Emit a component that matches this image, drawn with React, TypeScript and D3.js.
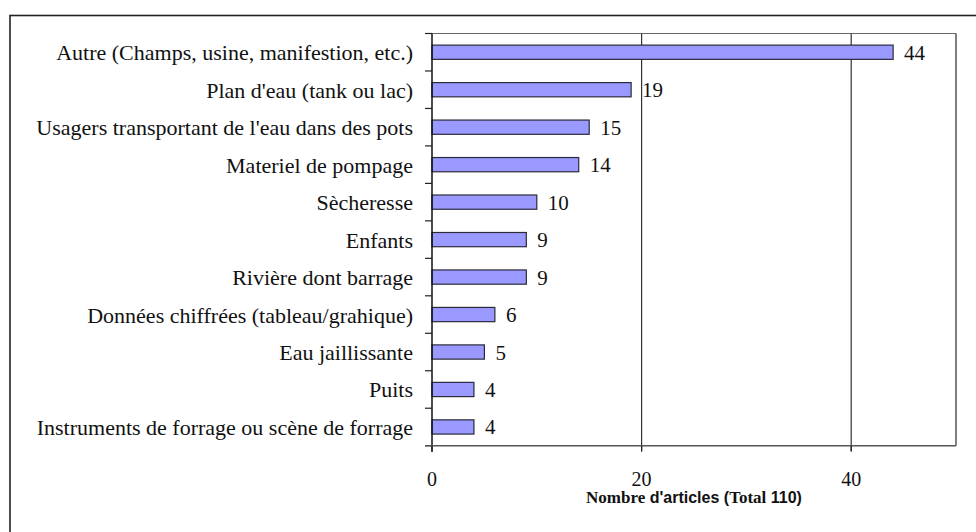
import React from "react";
import * as d3 from "d3";

const categories: string[] = [
  "Autre (Champs, usine, manifestion, etc.)",
  "Plan d'eau (tank ou lac)",
  "Usagers transportant de l'eau dans des pots",
  "Materiel de pompage",
  "Sècheresse",
  "Enfants",
  "Rivière dont barrage",
  "Données chiffrées (tableau/grahique)",
  "Eau jaillissante",
  "Puits",
  "Instruments de forrage ou scène de forrage",
];
const values: number[] = [44, 19, 15, 14, 10, 9, 9, 6, 5, 4, 4];
const xTicks: number[] = [0, 20, 40];
const xDomain: [number, number] = [0, 50];

const W = 976;
const H = 532;
const plot = { left: 432, right: 956, top: 33.5, bottom: 445.7 };
const serif = "Liberation Serif, Times New Roman, serif";
const sans = "Liberation Sans, Arial, sans-serif";

export default function App() {
  const x = d3.scaleLinear().domain(xDomain).range([plot.left, plot.right]);
  const y = d3
    .scaleBand<string>()
    .domain(categories)
    .range([plot.top, plot.bottom])
    .paddingInner(0.62)
    .paddingOuter(0.31);
  const step = y.step();
  const boundaries = d3.range(categories.length + 1).map((i) => plot.top + i * step);

  return (
    <svg
      width={W}
      height={H}
      style={{ position: "absolute", left: 0, top: 0, background: "#fff" }}
    >
      <rect x={0} y={0} width={W} height={H} fill="#fff" />
      <rect x={10} y={15.5} width={1000} height={600} fill="none" stroke="#222" strokeWidth={1.6} />

      <line x1={plot.left} x2={plot.right} y1={plot.top} y2={plot.top} stroke="#666" strokeWidth={1.2} />
      <line x1={plot.right} x2={plot.right} y1={plot.top} y2={plot.bottom} stroke="#555" strokeWidth={1.5} />

      {xTicks
        .filter((t) => t !== 0)
        .map((t) => (
          <line key={t} x1={x(t)} x2={x(t)} y1={plot.top} y2={plot.bottom + 5} stroke="#333" strokeWidth={1.2} />
        ))}

      {categories.map((c, i) => (
        <rect
          key={c}
          x={x(0)}
          y={y(c)!}
          width={x(values[i]) - x(0)}
          height={y.bandwidth()}
          fill="#9999ff"
          stroke="#2a2a3a"
          strokeWidth={1.2}
        />
      ))}

      {categories.map((c, i) => (
        <text
          key={"v" + c}
          x={x(values[i]) + 11}
          y={y(c)! + y.bandwidth() / 2 + 7.5}
          fontFamily={serif}
          fontSize={21}
          fill="#111"
        >
          {values[i]}
        </text>
      ))}

      {categories.map((c) => (
        <text
          key={"l" + c}
          x={plot.left - 19}
          y={y(c)! + y.bandwidth() / 2 + 8}
          textAnchor="end"
          fontFamily={serif}
          fontSize={22}
          fill="#111"
        >
          {c}
        </text>
      ))}

      <line x1={plot.left} x2={plot.left} y1={plot.top} y2={plot.bottom + 6} stroke="#111" strokeWidth={1.5} />
      {boundaries.map((b, i) => (
        <line key={"yt" + i} x1={plot.left - 7} x2={plot.left} y1={b} y2={b} stroke="#222" strokeWidth={1.2} />
      ))}

      <line x1={plot.left - 7} x2={plot.right} y1={plot.bottom} y2={plot.bottom} stroke="#555" strokeWidth={1.6} />
      {xTicks.map((t) => (
        <g key={"xt" + t}>
          <line x1={x(t)} x2={x(t)} y1={plot.bottom} y2={plot.bottom + 6} stroke="#222" strokeWidth={1.2} />
          <text x={x(t)} y={486} textAnchor="middle" fontFamily={serif} fontSize={20} fill="#111">
            {t}
          </text>
        </g>
      ))}

      <text
        x={(plot.left + plot.right) / 2}
        y={503}
        textAnchor="middle"
        fontSize={16}
        fontWeight="bold"
        fontFamily={sans}
        fill="#111"
      >
        <tspan fontFamily={serif} fontSize={17}>Nombre</tspan>
        <tspan> d'articles (</tspan>
        <tspan fontFamily={serif} fontSize={17}>Total</tspan>
        <tspan> 110)</tspan>
      </text>
    </svg>
  );
}
